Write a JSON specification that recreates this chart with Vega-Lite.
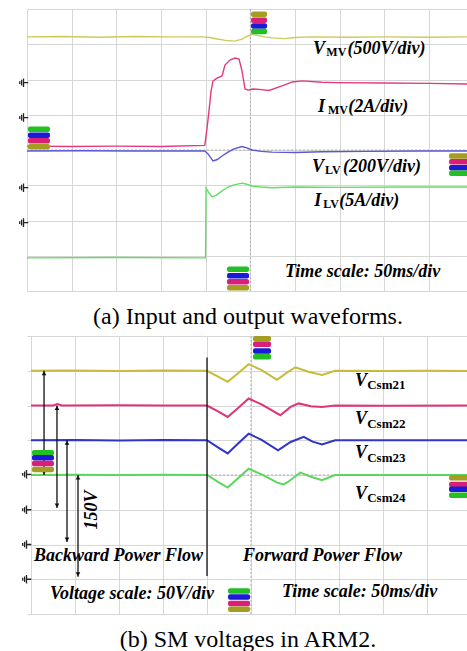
{
  "$schema": "https://vega.github.io/schema/vega-lite/v6.json",
  "background": "white",
  "padding": {"left": 17, "top": 8, "right": 0, "bottom": 0},
  "spacing": 45,
  "bounds": "flush",
  "config": {"view": {"stroke": null}, "font": "Liberation Serif"},
  "resolve": {"scale": {"stroke": "independent", "fill": "independent", "x": "independent", "y": "independent"}},
  "datasets": {
    "topTraces": [
      {"s": "VMV", "t": 0, "v": 3.21}, {"s": "VMV", "t": 40, "v": 3.22}, {"s": "VMV", "t": 80, "v": 3.2}, {"s": "VMV", "t": 120, "v": 3.22}, {"s": "VMV", "t": 160, "v": 3.21}, {"s": "VMV", "t": 196, "v": 3.21}, {"s": "VMV", "t": 205, "v": 3.19}, {"s": "VMV", "t": 213, "v": 3.15}, {"s": "VMV", "t": 222, "v": 3.11}, {"s": "VMV", "t": 232, "v": 3.09}, {"s": "VMV", "t": 240, "v": 3.14}, {"s": "VMV", "t": 246, "v": 3.22}, {"s": "VMV", "t": 252, "v": 3.28}, {"s": "VMV", "t": 258, "v": 3.25}, {"s": "VMV", "t": 266, "v": 3.21}, {"s": "VMV", "t": 275, "v": 3.18}, {"s": "VMV", "t": 288, "v": 3.16}, {"s": "VMV", "t": 300, "v": 3.19}, {"s": "VMV", "t": 320, "v": 3.21}, {"s": "VMV", "t": 360, "v": 3.2}, {"s": "VMV", "t": 400, "v": 3.21}, {"s": "VMV", "t": 450, "v": 3.2}, {"s": "VMV", "t": 494.7, "v": 3.21},
      {"s": "IMV", "t": 0, "v": 0.11}, {"s": "IMV", "t": 50, "v": 0.1}, {"s": "IMV", "t": 100, "v": 0.11}, {"s": "IMV", "t": 150, "v": 0.1}, {"s": "IMV", "t": 199, "v": 0.13}, {"s": "IMV", "t": 201.5, "v": 0.62}, {"s": "IMV", "t": 203.7, "v": 1.11}, {"s": "IMV", "t": 206, "v": 1.67}, {"s": "IMV", "t": 208.2, "v": 1.96}, {"s": "IMV", "t": 212.7, "v": 2.04}, {"s": "IMV", "t": 218.3, "v": 2.1}, {"s": "IMV", "t": 221.6, "v": 2.41}, {"s": "IMV", "t": 227.2, "v": 2.55}, {"s": "IMV", "t": 232.8, "v": 2.61}, {"s": "IMV", "t": 237.3, "v": 2.58}, {"s": "IMV", "t": 240.7, "v": 2.24}, {"s": "IMV", "t": 244, "v": 1.73}, {"s": "IMV", "t": 247.4, "v": 1.7}, {"s": "IMV", "t": 253, "v": 1.73}, {"s": "IMV", "t": 259.7, "v": 1.72}, {"s": "IMV", "t": 270.9, "v": 1.69}, {"s": "IMV", "t": 285.4, "v": 1.82}, {"s": "IMV", "t": 297, "v": 1.93}, {"s": "IMV", "t": 307.8, "v": 1.96}, {"s": "IMV", "t": 330, "v": 1.92}, {"s": "IMV", "t": 345, "v": 1.91}, {"s": "IMV", "t": 397, "v": 1.9}, {"s": "IMV", "t": 450, "v": 1.89}, {"s": "IMV", "t": 494.7, "v": 1.87},
      {"s": "VLV", "t": 0, "v": -0.03}, {"s": "VLV", "t": 60, "v": -0.02}, {"s": "VLV", "t": 120, "v": -0.03}, {"s": "VLV", "t": 180, "v": -0.03}, {"s": "VLV", "t": 199, "v": -0.03}, {"s": "VLV", "t": 202.6, "v": -0.11}, {"s": "VLV", "t": 208.2, "v": -0.31}, {"s": "VLV", "t": 213, "v": -0.27}, {"s": "VLV", "t": 218.3, "v": -0.17}, {"s": "VLV", "t": 225, "v": -0.06}, {"s": "VLV", "t": 231.7, "v": 0.03}, {"s": "VLV", "t": 240.7, "v": 0.1}, {"s": "VLV", "t": 246, "v": 0.06}, {"s": "VLV", "t": 251.8, "v": 0.0}, {"s": "VLV", "t": 262, "v": -0.04}, {"s": "VLV", "t": 274.2, "v": -0.06}, {"s": "VLV", "t": 300, "v": -0.07}, {"s": "VLV", "t": 330, "v": -0.05}, {"s": "VLV", "t": 380, "v": -0.04}, {"s": "VLV", "t": 440, "v": -0.03}, {"s": "VLV", "t": 494.7, "v": -0.03},
      {"s": "ILV", "t": 0, "v": -3.06}, {"s": "ILV", "t": 100, "v": -3.05}, {"s": "ILV", "t": 199.8, "v": -3.06}, {"s": "ILV", "t": 200.4, "v": -1.08}, {"s": "ILV", "t": 203.7, "v": -1.22}, {"s": "ILV", "t": 207.1, "v": -1.33}, {"s": "ILV", "t": 212, "v": -1.28}, {"s": "ILV", "t": 218.3, "v": -1.16}, {"s": "ILV", "t": 225, "v": -1.05}, {"s": "ILV", "t": 231.7, "v": -0.99}, {"s": "ILV", "t": 240.7, "v": -0.94}, {"s": "ILV", "t": 246, "v": -0.97}, {"s": "ILV", "t": 251.8, "v": -1.02}, {"s": "ILV", "t": 262, "v": -1.05}, {"s": "ILV", "t": 274.2, "v": -1.07}, {"s": "ILV", "t": 300, "v": -1.05}, {"s": "ILV", "t": 350, "v": -1.06}, {"s": "ILV", "t": 420, "v": -1.05}, {"s": "ILV", "t": 494.7, "v": -1.05}
    ],
    "botTraces": [
      {"s": "Csm21", "t": 0, "v": 3.0}, {"s": "Csm21", "t": 40, "v": 3.01}, {"s": "Csm21", "t": 100, "v": 2.99}, {"s": "Csm21", "t": 150, "v": 3.01}, {"s": "Csm21", "t": 200, "v": 3.0}, {"s": "Csm21", "t": 212, "v": 2.84}, {"s": "Csm21", "t": 223.5, "v": 2.68}, {"s": "Csm21", "t": 235, "v": 2.92}, {"s": "Csm21", "t": 247.3, "v": 3.19}, {"s": "Csm21", "t": 262, "v": 3.02}, {"s": "Csm21", "t": 279.5, "v": 2.74}, {"s": "Csm21", "t": 290, "v": 2.93}, {"s": "Csm21", "t": 300.4, "v": 3.1}, {"s": "Csm21", "t": 315, "v": 2.97}, {"s": "Csm21", "t": 330.7, "v": 2.88}, {"s": "Csm21", "t": 345.5, "v": 3.0}, {"s": "Csm21", "t": 400, "v": 2.99}, {"s": "Csm21", "t": 450, "v": 3.0}, {"s": "Csm21", "t": 497.7, "v": 2.99},
      {"s": "Csm22", "t": 0, "v": 2.0}, {"s": "Csm22", "t": 25, "v": 2.0}, {"s": "Csm22", "t": 30, "v": 2.04}, {"s": "Csm22", "t": 35, "v": 2.0}, {"s": "Csm22", "t": 100, "v": 2.01}, {"s": "Csm22", "t": 150, "v": 2.0}, {"s": "Csm22", "t": 200, "v": 2.0}, {"s": "Csm22", "t": 212, "v": 1.84}, {"s": "Csm22", "t": 223.5, "v": 1.67}, {"s": "Csm22", "t": 235, "v": 1.92}, {"s": "Csm22", "t": 247.3, "v": 2.2}, {"s": "Csm22", "t": 262, "v": 2.03}, {"s": "Csm22", "t": 283.3, "v": 1.72}, {"s": "Csm22", "t": 295, "v": 1.96}, {"s": "Csm22", "t": 304.2, "v": 2.06}, {"s": "Csm22", "t": 318, "v": 1.98}, {"s": "Csm22", "t": 330.7, "v": 1.96}, {"s": "Csm22", "t": 345.5, "v": 2.0}, {"s": "Csm22", "t": 400, "v": 1.99}, {"s": "Csm22", "t": 497.7, "v": 2.0},
      {"s": "Csm23", "t": 0, "v": 1.0}, {"s": "Csm23", "t": 50, "v": 1.01}, {"s": "Csm23", "t": 100, "v": 0.99}, {"s": "Csm23", "t": 150, "v": 1.01}, {"s": "Csm23", "t": 200, "v": 1.0}, {"s": "Csm23", "t": 212, "v": 0.8}, {"s": "Csm23", "t": 223.5, "v": 0.62}, {"s": "Csm23", "t": 235, "v": 0.9}, {"s": "Csm23", "t": 247.3, "v": 1.19}, {"s": "Csm23", "t": 262, "v": 1.01}, {"s": "Csm23", "t": 280.7, "v": 0.71}, {"s": "Csm23", "t": 295, "v": 0.95}, {"s": "Csm23", "t": 309.9, "v": 1.1}, {"s": "Csm23", "t": 320, "v": 0.96}, {"s": "Csm23", "t": 330.7, "v": 0.88}, {"s": "Csm23", "t": 345.5, "v": 1.0}, {"s": "Csm23", "t": 400, "v": 1.0}, {"s": "Csm23", "t": 497.7, "v": 1.0},
      {"s": "Csm24", "t": 0, "v": 0.0}, {"s": "Csm24", "t": 50, "v": 0.01}, {"s": "Csm24", "t": 100, "v": 0.0}, {"s": "Csm24", "t": 150, "v": 0.01}, {"s": "Csm24", "t": 200, "v": 0.0}, {"s": "Csm24", "t": 212, "v": -0.19}, {"s": "Csm24", "t": 223.5, "v": -0.36}, {"s": "Csm24", "t": 235, "v": -0.1}, {"s": "Csm24", "t": 247.3, "v": 0.18}, {"s": "Csm24", "t": 262, "v": 0.02}, {"s": "Csm24", "t": 280, "v": -0.22}, {"s": "Csm24", "t": 287.1, "v": -0.27}, {"s": "Csm24", "t": 292, "v": -0.2}, {"s": "Csm24", "t": 306, "v": 0.07}, {"s": "Csm24", "t": 318, "v": -0.05}, {"s": "Csm24", "t": 330.7, "v": -0.15}, {"s": "Csm24", "t": 345.5, "v": 0.0}, {"s": "Csm24", "t": 400, "v": 0.0}, {"s": "Csm24", "t": 497.7, "v": 0.0}
    ],
    "topCenter": [
      {"t": 250, "v": -4, "t2": 250, "v2": 4},
      {"t": 0, "v": 0, "t2": 494.7, "v2": 0}
    ],
    "botCenter": [
      {"t": 250, "v": -4, "t2": 250, "v2": 4},
      {"t": 0, "v": 0, "t2": 497.7, "v2": 0}
    ],
    "topMarkers": [
      {"g": "narrow", "t": 259.7, "v": 3.85, "c": "1"}, {"g": "narrow", "t": 259.7, "v": 3.68, "c": "2"}, {"g": "narrow", "t": 259.7, "v": 3.52, "c": "3"}, {"g": "narrow", "t": 259.7, "v": 3.36, "c": "4"},
      {"g": "wide", "t": 13.4, "v": 0.59, "c": "4"}, {"g": "wide", "t": 13.4, "v": 0.42, "c": "3"}, {"g": "wide", "t": 13.4, "v": 0.26, "c": "2"}, {"g": "wide", "t": 13.4, "v": 0.09, "c": "1"},
      {"g": "wide", "t": 484.7, "v": -0.17, "c": "1"}, {"g": "wide", "t": 484.7, "v": -0.33, "c": "2"}, {"g": "wide", "t": 484.7, "v": -0.5, "c": "3"}, {"g": "wide", "t": 484.7, "v": -0.66, "c": "4"},
      {"g": "wide", "t": 236.2, "v": -3.38, "c": "4"}, {"g": "wide", "t": 236.2, "v": -3.57, "c": "3"}, {"g": "wide", "t": 236.2, "v": -3.74, "c": "2"}, {"g": "wide", "t": 236.2, "v": -3.91, "c": "1"}
    ],
    "botMarkers": [
      {"g": "narrow", "t": 262.5, "v": 3.92, "c": "1"}, {"g": "narrow", "t": 262.5, "v": 3.76, "c": "2"}, {"g": "narrow", "t": 262.5, "v": 3.57, "c": "3"}, {"g": "narrow", "t": 262.5, "v": 3.4, "c": "4"},
      {"g": "wide", "t": 13.6, "v": 0.64, "c": "4"}, {"g": "wide", "t": 13.6, "v": 0.5, "c": "3"}, {"g": "wide", "t": 13.6, "v": 0.33, "c": "2"}, {"g": "wide", "t": 13.6, "v": 0.16, "c": "1"},
      {"g": "wide", "t": 487.5, "v": -0.08, "c": "1"}, {"g": "wide", "t": 487.5, "v": -0.27, "c": "2"}, {"g": "wide", "t": 487.5, "v": -0.41, "c": "3"}, {"g": "wide", "t": 487.5, "v": -0.58, "c": "4"},
      {"g": "wide", "t": 236.4, "v": -3.34, "c": "4"}, {"g": "wide", "t": 236.4, "v": -3.51, "c": "3"}, {"g": "wide", "t": 236.4, "v": -3.7, "c": "2"}, {"g": "wide", "t": 236.4, "v": -3.86, "c": "1"}
    ],
    "topGround": [
      {"t": -3.9, "v": 1.91}, {"t": -3.9, "v": 0.92}, {"t": -3.9, "v": -1.07}, {"t": -3.9, "v": -2.06}
    ],
    "botGround": [
      {"t": -5.1, "v": 0.02}, {"t": -5.1, "v": -1.0}, {"t": -5.1, "v": -2.0}, {"t": -5.1, "v": -3.0}
    ],
    "topText": [
      {"k": "main", "t": 320.1, "v": 2.72, "txt": "V"}, {"k": "sub", "t": 335.0, "v": 2.67, "txt": "MV"}, {"k": "main", "t": 358.6, "v": 2.72, "txt": "(500V/div)"},
      {"k": "main", "t": 325.7, "v": 1.08, "txt": "I"}, {"k": "sub", "t": 336.8, "v": 1.02, "txt": "MV"}, {"k": "main", "t": 359.6, "v": 1.08, "txt": "(2A/div)"},
      {"k": "main", "t": 319.0, "v": -0.62, "txt": "V"}, {"k": "sub", "t": 333.6, "v": -0.68, "txt": "LV"}, {"k": "main", "t": 353.6, "v": -0.62, "txt": "(200V/div)"},
      {"k": "main", "t": 321.6, "v": -1.59, "txt": "I"}, {"k": "sub", "t": 331.6, "v": -1.65, "txt": "LV"}, {"k": "main", "t": 349.6, "v": -1.59, "txt": "(5A/div)"},
      {"k": "main", "t": 288.8, "v": -3.6, "txt": "Time scale: 50ms/div"}
    ],
    "botText": [
      {"k": "main", "t": 368.2, "v": 2.56, "txt": "V"}, {"k": "sub", "t": 382.0, "v": 2.47, "txt": "Csm21"},
      {"k": "main", "t": 368.2, "v": 1.46, "txt": "V"}, {"k": "sub", "t": 382.0, "v": 1.36, "txt": "Csm22"},
      {"k": "main", "t": 368.2, "v": 0.48, "txt": "V"}, {"k": "sub", "t": 382.0, "v": 0.38, "txt": "Csm23"},
      {"k": "main", "t": 368.2, "v": -0.7, "txt": "V"}, {"k": "sub", "t": 382.0, "v": -0.77, "txt": "Csm24"},
      {"k": "main", "t": 3.4, "v": -2.47, "txt": "Backward Power Flow"},
      {"k": "main", "t": 240.9, "v": -2.47, "txt": "Forward Power Flow"},
      {"k": "main", "t": 21.6, "v": -3.57, "txt": "Voltage scale: 50V/div"},
      {"k": "main", "t": 285.2, "v": -3.51, "txt": "Time scale: 50ms/div"},
      {"k": "rot", "t": 69.3, "v": -1.01, "txt": "150V"}
    ],
    "botRules": [
      {"t": 14.8, "v": 3.0, "v2": 0.0},
      {"t": 29.5, "v": 2.0, "v2": -0.95},
      {"t": 40.9, "v": 1.0, "v2": -1.93},
      {"t": 53.4, "v": 0.0, "v2": -2.93},
      {"t": 200, "v": 3.38, "v2": -2.91}
    ],
    "botHeads": [
      {"d": "up", "t": 14.8, "v": 2.93}, {"d": "down", "t": 14.8, "v": 0.07},
      {"d": "up", "t": 29.5, "v": 1.93}, {"d": "down", "t": 29.5, "v": -0.88},
      {"d": "up", "t": 40.9, "v": 0.93}, {"d": "down", "t": 40.9, "v": -1.86},
      {"d": "up", "t": 53.4, "v": -0.07}, {"d": "down", "t": 53.4, "v": -2.86}
    ]
  },
  "vconcat": [
    {
      "width": 442,
      "height": 282,
      "title": {"text": "(a) Input and output waveforms.", "orient": "bottom", "anchor": "middle", "font": "Liberation Serif", "fontSize": 24, "fontWeight": "normal", "color": "#000", "baseline": "middle", "offset": 25},
      "encoding": {
        "x": {"field": "t", "type": "quantitative", "scale": {"domain": [0, 494.7], "nice": false, "zero": false}, "axis": {"values": [0, 50, 100, 150, 200, 250, 300, 350, 400, 450], "grid": true, "gridColor": "#d6d6d6", "gridWidth": 1, "labels": false, "ticks": false, "domain": false, "title": null}},
        "y": {"field": "v", "type": "quantitative", "scale": {"domain": [-4, 4], "nice": false, "zero": false}, "axis": {"values": [-4, -3, -2, -1, 0, 1, 2, 3, 4], "grid": true, "gridColor": "#d6d6d6", "gridWidth": 1, "labels": false, "ticks": false, "domain": false, "title": null}}
      },
      "layer": [
        {"data": {"name": "topCenter"}, "mark": {"type": "rule", "color": "#b0b0b0", "strokeDash": [2, 2], "strokeWidth": 1}, "encoding": {"x2": {"field": "t2"}, "y2": {"field": "v2"}}},
        {"data": {"name": "topTraces"}, "mark": {"type": "line", "strokeWidth": 1.4, "clip": true}, "encoding": {"stroke": {"field": "s", "type": "nominal", "scale": {"domain": ["VMV", "IMV", "VLV", "ILV"], "range": ["#cfc95a", "#e5397f", "#5858d6", "#66dd66"]}, "legend": null}}},
        {"data": {"name": "topMarkers"}, "transform": [{"filter": "datum.g == 'narrow'"}], "mark": {"type": "tick", "orient": "horizontal", "size": 16, "thickness": 5.5, "cornerRadius": 2, "opacity": 1, "clip": true}, "encoding": {"fill": {"field": "c", "type": "nominal", "scale": {"domain": ["1", "2", "3", "4"], "range": ["#a49d22", "#d8207a", "#1a1ad8", "#22c022"]}, "legend": null}}},
        {"data": {"name": "topMarkers"}, "transform": [{"filter": "datum.g == 'wide'"}], "mark": {"type": "tick", "orient": "horizontal", "size": 22, "thickness": 5.5, "cornerRadius": 2, "opacity": 1, "clip": true}, "encoding": {"fill": {"field": "c", "type": "nominal", "scale": {"domain": ["1", "2", "3", "4"], "range": ["#a49d22", "#d8207a", "#1a1ad8", "#22c022"]}, "legend": null}}},
        {"data": {"name": "topGround"}, "mark": {"type": "point", "shape": "M0,0H1M0,-0.9V0.9M-0.4,-0.6V0.6M-0.8,-0.3V0.3", "filled": false, "stroke": "#222", "strokeWidth": 1.3, "size": 90, "opacity": 1}},
        {"data": {"name": "topText"}, "transform": [{"filter": "datum.k == 'main'"}], "mark": {"type": "text", "font": "Liberation Serif", "fontStyle": "italic", "fontWeight": "bold", "fontSize": 18, "align": "left", "baseline": "alphabetic", "color": "#000"}, "encoding": {"text": {"field": "txt"}}},
        {"data": {"name": "topText"}, "transform": [{"filter": "datum.k == 'sub'"}], "mark": {"type": "text", "font": "Liberation Serif", "fontWeight": "bold", "fontSize": 12, "align": "left", "baseline": "alphabetic", "color": "#000"}, "encoding": {"text": {"field": "txt"}}}
      ]
    },
    {
      "width": 442,
      "height": 278,
      "title": {"text": "(b) SM voltages in ARM2.", "orient": "bottom", "anchor": "middle", "font": "Liberation Serif", "fontSize": 24, "fontWeight": "normal", "color": "#000", "baseline": "middle", "offset": 25},
      "encoding": {
        "x": {"field": "t", "type": "quantitative", "scale": {"domain": [-4.55, 497.7], "nice": false, "zero": false}, "axis": {"values": [0, 50, 100, 150, 200, 250, 300, 350, 400, 450], "grid": true, "gridColor": "#d6d6d6", "gridWidth": 1, "labels": false, "ticks": false, "domain": false, "title": null}},
        "y": {"field": "v", "type": "quantitative", "scale": {"domain": [-4, 4], "nice": false, "zero": false}, "axis": {"values": [-4, -3, -2, -1, 0, 1, 2, 3, 4], "grid": true, "gridColor": "#d6d6d6", "gridWidth": 1, "labels": false, "ticks": false, "domain": false, "title": null}}
      },
      "layer": [
        {"data": {"name": "botCenter"}, "mark": {"type": "rule", "color": "#b0b0b0", "strokeDash": [2, 2], "strokeWidth": 1}, "encoding": {"x2": {"field": "t2"}, "y2": {"field": "v2"}}},
        {"data": {"name": "botTraces"}, "mark": {"type": "line", "strokeWidth": 2, "clip": true}, "encoding": {"stroke": {"field": "s", "type": "nominal", "scale": {"domain": ["Csm21", "Csm22", "Csm23", "Csm24"], "range": ["#c4bc3a", "#e0347a", "#3034c8", "#5cd65c"]}, "legend": null}}},
        {"data": {"name": "botRules"}, "mark": {"type": "rule", "color": "#111", "strokeWidth": 1.3}, "encoding": {"y2": {"field": "v2"}}},
        {"data": {"name": "botHeads"}, "transform": [{"filter": "datum.d == 'up'"}], "mark": {"type": "point", "shape": "triangle-up", "filled": true, "color": "#111", "size": 22, "opacity": 1}},
        {"data": {"name": "botHeads"}, "transform": [{"filter": "datum.d == 'down'"}], "mark": {"type": "point", "shape": "triangle-down", "filled": true, "color": "#111", "size": 22, "opacity": 1}},
        {"data": {"name": "botMarkers"}, "transform": [{"filter": "datum.g == 'narrow'"}], "mark": {"type": "tick", "orient": "horizontal", "size": 18, "thickness": 5.5, "cornerRadius": 2, "opacity": 1, "clip": true}, "encoding": {"fill": {"field": "c", "type": "nominal", "scale": {"domain": ["1", "2", "3", "4"], "range": ["#a49d22", "#d8207a", "#1a1ad8", "#22c022"]}, "legend": null}}},
        {"data": {"name": "botMarkers"}, "transform": [{"filter": "datum.g == 'wide'"}], "mark": {"type": "tick", "orient": "horizontal", "size": 22, "thickness": 5.5, "cornerRadius": 2, "opacity": 1, "clip": true}, "encoding": {"fill": {"field": "c", "type": "nominal", "scale": {"domain": ["1", "2", "3", "4"], "range": ["#a49d22", "#d8207a", "#1a1ad8", "#22c022"]}, "legend": null}}},
        {"data": {"name": "botGround"}, "mark": {"type": "point", "shape": "M0,0H1M0,-0.9V0.9M-0.4,-0.6V0.6M-0.8,-0.3V0.3", "filled": false, "stroke": "#222", "strokeWidth": 1.3, "size": 90, "opacity": 1}},
        {"data": {"name": "botText"}, "transform": [{"filter": "datum.k == 'main'"}], "mark": {"type": "text", "font": "Liberation Serif", "fontStyle": "italic", "fontWeight": "bold", "fontSize": 18, "align": "left", "baseline": "alphabetic", "color": "#000"}, "encoding": {"text": {"field": "txt"}}},
        {"data": {"name": "botText"}, "transform": [{"filter": "datum.k == 'sub'"}], "mark": {"type": "text", "font": "Liberation Serif", "fontWeight": "bold", "fontSize": 13, "align": "left", "baseline": "alphabetic", "color": "#000"}, "encoding": {"text": {"field": "txt"}}},
        {"data": {"name": "botText"}, "transform": [{"filter": "datum.k == 'rot'"}], "mark": {"type": "text", "font": "Liberation Serif", "fontStyle": "italic", "fontWeight": "bold", "fontSize": 18, "align": "center", "baseline": "middle", "angle": 270, "color": "#000"}, "encoding": {"text": {"field": "txt"}}}
      ]
    }
  ]
}
